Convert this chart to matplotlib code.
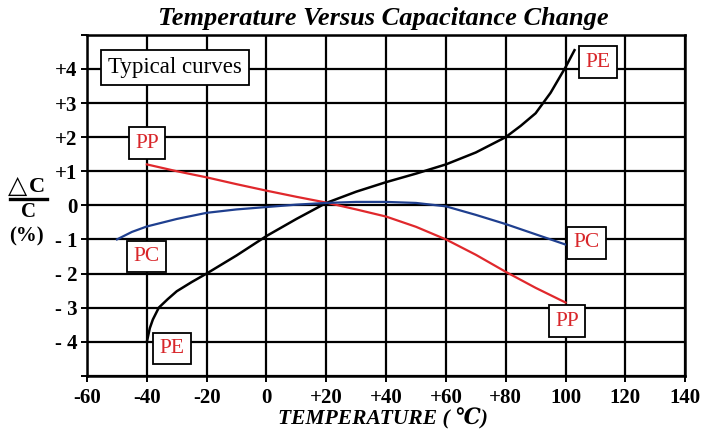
import matplotlib.pyplot as plt
from matplotlib.lines import Line2D

# curves (temperature in degC, change in %)
pe_t = [-40, -39, -38, -36, -33, -30, -25, -20, -10, 0, 10, 20, 30, 40, 50, 60, 70, 80, 85, 90, 95, 100, 103]
pe_c = [-4.0, -3.6, -3.35, -3.0, -2.75, -2.52, -2.25, -2.0, -1.47, -0.9, -0.4, 0.07, 0.4, 0.68, 0.93, 1.2, 1.55, 2.0, 2.33, 2.7, 3.3, 4.05, 4.55]

pp_t = [-40, -30, -20, -10, 0, 10, 20, 30, 40, 50, 60, 70, 80, 90, 100]
pp_c = [1.2, 1.0, 0.82, 0.62, 0.43, 0.25, 0.08, -0.12, -0.33, -0.63, -1.0, -1.45, -1.95, -2.42, -2.85]

pc_t = [-50, -45, -40, -30, -20, -10, 0, 10, 20, 30, 40, 50, 60, 70, 80, 90, 100]
pc_c = [-1.0, -0.78, -0.62, -0.4, -0.22, -0.12, -0.05, 0.02, 0.07, 0.1, 0.1, 0.07, -0.03, -0.28, -0.55, -0.85, -1.15]

x_ticks = [-60, -40, -20, 0, 20, 40, 60, 80, 100, 120, 140]
x_labels = ["-60", "-40", "-20", "0", "+20", "+40", "+60", "+80", "100", "120", "140"]
y_ticks = [-5, -4, -3, -2, -1, 0, 1, 2, 3, 4, 5]
y_labels = ["", "- 4", "- 3", "- 2", "- 1", "0", "+1", "+2", "+3", "+4", ""]

# curve name boxes: (text, x, y)
tags = [("PP", -40, 1.82), ("PC", -40, -1.5), ("PE", -31.5, -4.2),
        ("PE", 111, 4.2), ("PC", 107, -1.1), ("PP", 100.5, -3.4)]

serif = ["Liberation Serif", "DejaVu Serif", "DejaVu Sans"]
plt.rcParams["font.family"] = serif

fig = plt.figure(figsize=(7.02, 4.30), dpi=100)
ax = fig.add_axes([0.124, 0.126, 0.852, 0.793])

ax.plot(pe_t, pe_c, color="black", lw=1.8, zorder=3)
ax.plot(pp_t, pp_c, color="#e0282c", lw=1.6, zorder=3)
ax.plot(pc_t, pc_c, color="#1f3f8f", lw=1.6, zorder=3)

ax.set_xlim(-60, 140)
ax.set_ylim(-5, 5)
ax.set_xticks(x_ticks)
ax.set_xticklabels(x_labels, fontsize=15, fontweight="bold")
ax.set_yticks(y_ticks)
ax.set_yticklabels(y_labels, fontsize=15, fontweight="bold")
ax.tick_params(axis="x", length=4, width=1.4, color="black", pad=5)
ax.tick_params(axis="y", length=4, width=1.4, color="black", pad=3)
ax.grid(True, color="black", lw=1.6)
ax.set_axisbelow(True)
for s in ax.spines.values():
    s.set_linewidth(1.8)

for name, x, y in tags:
    ax.text(x, y, name, color="#d8262a", fontsize=15.5, ha="center", va="center", zorder=5,
            bbox=dict(boxstyle="square,pad=0.3", fc="white", ec="black", lw=1.3))

ax.text(-53.0, 4.05, "Typical curves", color="black", fontsize=16.5, ha="left", va="center", zorder=5,
        bbox=dict(boxstyle="square,pad=0.3", fc="white", ec="black", lw=1.3))

fig.text(383 / 702, 1 - 19 / 430, "Temperature Versus Capacitance Change", fontsize=19,
         fontweight="bold", style="italic", ha="center", va="center")
fig.text(383 / 702, 1 - 419 / 430, "TEMPERATURE ( \u2103)", fontsize=15.5,
         fontweight="bold", style="italic", ha="center", va="center")

# y axis label drawn as a fraction
fig.text(18 / 702, 1 - 186 / 430, "\u25b3", fontsize=18, ha="center", va="center",
         family=["DejaVu Sans"])
fig.text(37 / 702, 1 - 187 / 430, "C", fontsize=16, fontweight="bold", ha="center", va="center")
fig.add_artist(Line2D([10 / 702, 47 / 702], [1 - 199 / 430, 1 - 199 / 430], color="black", lw=2.4,
                      transform=fig.transFigure))
fig.text(28 / 702, 1 - 212 / 430, "C", fontsize=15, fontweight="bold", ha="center", va="center")
fig.text(26 / 702, 1 - 236 / 430, "(%)", fontsize=15, fontweight="bold", ha="center", va="center")

fig.savefig("out.png", dpi=100)
